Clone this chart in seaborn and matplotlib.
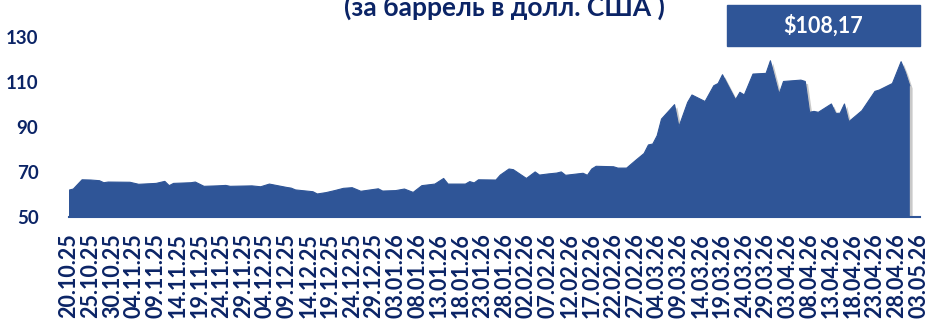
import pandas as pd
import numpy as np
import matplotlib
matplotlib.use("Agg")
import matplotlib.pyplot as plt
import matplotlib.dates as mdates
import matplotlib.patheffects as pe
import seaborn as sns

# Brent price, USD per barrel
dates = ['2025-10-20', '2025-10-21', '2025-10-23', '2025-10-25', '2025-10-27', '2025-10-28',
         '2025-10-29', '2025-11-03', '2025-11-05', '2025-11-09', '2025-11-11', '2025-11-12',
         '2025-11-13', '2025-11-17', '2025-11-18', '2025-11-20', '2025-11-23', '2025-11-25',
         '2025-11-26', '2025-12-01', '2025-12-03', '2025-12-05', '2025-12-09', '2025-12-10',
         '2025-12-11', '2025-12-12', '2025-12-15', '2025-12-16', '2025-12-18', '2025-12-20',
         '2025-12-22', '2025-12-24', '2025-12-26', '2025-12-30', '2025-12-31', '2026-01-03',
         '2026-01-05', '2026-01-07', '2026-01-09', '2026-01-12', '2026-01-14', '2026-01-15',
         '2026-01-19', '2026-01-20', '2026-01-21', '2026-01-22', '2026-01-26', '2026-01-27',
         '2026-01-29', '2026-01-30', '2026-02-02', '2026-02-04', '2026-02-05', '2026-02-07',
         '2026-02-09', '2026-02-10', '2026-02-11', '2026-02-15', '2026-02-16', '2026-02-17',
         '2026-02-18', '2026-02-22', '2026-02-23', '2026-02-25', '2026-02-27', '2026-03-01',
         '2026-03-02', '2026-03-03', '2026-03-04', '2026-03-05', '2026-03-08', '2026-03-09',
         '2026-03-11', '2026-03-12', '2026-03-15', '2026-03-17', '2026-03-18', '2026-03-19',
         '2026-03-22', '2026-03-23', '2026-03-24', '2026-03-26', '2026-03-29', '2026-03-30',
         '2026-04-01', '2026-04-02', '2026-04-06', '2026-04-07', '2026-04-08', '2026-04-09',
         '2026-04-10', '2026-04-13', '2026-04-14', '2026-04-15', '2026-04-16', '2026-04-17',
         '2026-04-20', '2026-04-23', '2026-04-24', '2026-04-27', '2026-04-29', '2026-04-30',
         '2026-05-01']
price = [61.8, 62.3, 66.4, 66.3, 66.0, 65.1,
         65.4, 65.3, 64.4, 64.8, 65.7, 63.8,
         64.8, 65.1, 65.4, 63.5, 63.7, 63.9,
         63.5, 63.7, 63.3, 64.5, 63.0, 62.7,
         61.9, 61.7, 61.1, 60.1, 60.7, 61.6,
         62.6, 62.9, 61.3, 62.4, 61.4, 61.6,
         62.3, 60.8, 63.8, 64.5, 67.0, 64.5,
         64.5, 65.6, 65.0, 66.4, 66.3, 68.5,
         71.2, 70.9, 67.0, 69.9, 68.5, 69.0,
         69.4, 69.9, 68.4, 69.3, 68.4, 71.2,
         72.4, 72.2, 71.6, 71.6, 74.9, 78.1,
         81.9, 82.3, 86.0, 93.4, 99.8, 90.0,
         100.8, 104.1, 101.2, 108.2, 109.2, 113.1,
         102.0, 105.3, 104.1, 113.4, 113.7, 119.3,
         104.5, 110.1, 110.7, 110.1, 96.4, 96.8,
         96.4, 100.1, 95.9, 96.0, 100.1, 92.2,
         97.1, 105.7, 106.3, 109.2, 118.9, 114.1,
         108.17]
y_ticks = [50, 70, 90, 110, 130]
last_label = '$108,17'
title = '(за баррель в долл. США )'

df = pd.DataFrame({'date': pd.to_datetime(dates), 'price': price})

blue = '#2F5597'
navy = '#0B2466'

sns.set_style("white")
plt.rcParams['font.family'] = ['Lato', 'DejaVu Sans']

fig = plt.figure(figsize=(9.26, 3.19), dpi=100)
ax = fig.add_axes([69 / 926, 1 - 216.7 / 319, 851 / 926, 180 / 319])

area = ax.fill_between(df['date'], 50, df['price'], color=blue, linewidth=0)
area.set_path_effects([pe.SimplePatchShadow(offset=(2, -2), shadow_rgbFace='0.4', alpha=0.35),
                       pe.Normal()])
sns.lineplot(data=df, x='date', y='price', color=blue, linewidth=0.8, ax=ax)

ax.set_ylim(50, 130)
ax.set_xlim(pd.Timestamp('2025-10-20'), pd.Timestamp('2026-05-03 08:00'))
ax.set_yticks(y_ticks)
ax.set_xticks(pd.date_range('2025-10-20', '2026-05-03', freq='5D'))
ax.xaxis.set_major_formatter(mdates.DateFormatter('%d.%m.%y'))
ax.set_xlabel('')
ax.set_ylabel('')

for s in ['top', 'right', 'left']:
    ax.spines[s].set_visible(False)
ax.spines['bottom'].set_color(blue)
ax.spines['bottom'].set_linewidth(1.5)

ax.tick_params(axis='x', length=5, width=1.5, color=blue, direction='out',
               labelrotation=90, labelsize=15.5, labelcolor=navy, pad=7)
ax.tick_params(axis='y', length=0, labelsize=13.5, labelcolor=navy, pad=22)
for lab in ax.get_xticklabels() + ax.get_yticklabels():
    lab.set_fontweight('bold')

fig.text(504 / 926, 1 - 16 / 319, title, ha='center', va='baseline',
         fontsize=19, fontweight='bold', color=navy)

fig.patches.append(plt.Rectangle((727 / 926, 1 - 46 / 319), 193 / 926, 41 / 319,
                                 transform=fig.transFigure, color=blue, zorder=3))
fig.text(823 / 926, 1 - 26 / 319, last_label, ha='center', va='center',
         fontsize=15.5, fontweight='bold', color='white', zorder=4)

plt.savefig('out.png', dpi=100)
